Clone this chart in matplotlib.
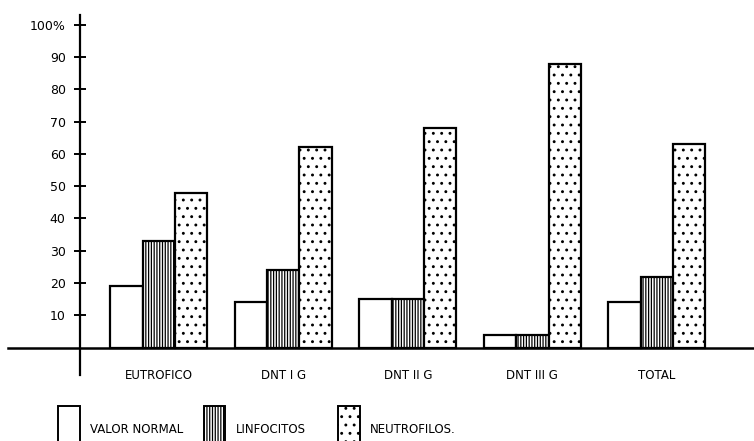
import numpy as np
import matplotlib.pyplot as plt
from matplotlib.patches import Rectangle

#%% data
grupos = ['EUTROFICO', 'DNT I G', 'DNT II G', 'DNT III G', 'TOTAL']
valor_normal = [19, 14, 15, 4, 14]
linfocitos = [33, 24, 15, 4, 22]
neutrofilos = [48, 62, 68, 88, 63]
yticks = [10, 20, 30, 40, 50, 60, 70, 80, 90, 100]
ytick_labels = ['10', '20', '30', '40', '50', '60', '70', '80', '90', '100%']
serie_labels = ['VALOR NORMAL', 'LINFOCITOS', 'NEUTROFILOS.']

#%% plot
plt.rcParams['hatch.linewidth'] = 0.9
fig = plt.figure(figsize=(7.54, 4.41), dpi=100)
ax = fig.add_axes([0, 0.1497, 1, 0.816])

x = np.arange(len(grupos))
w = 0.26
hatches = ['', '||||||', '..']
for i, vals in enumerate([valor_normal, linfocitos, neutrofilos]):
    ax.bar(x + (i - 1) * w, vals, width=w, facecolor='white',
           edgecolor='black', linewidth=1.6, hatch=hatches[i])

ax.set_xlim(-1.275, 4.78)
ax.set_ylim(-8.5, 103)

# axes drawn by hand style: y axis at x=-0.63, baseline at 0
ax.spines[['top', 'right', 'bottom']].set_visible(False)
ax.spines['left'].set_position(('data', -0.63))
ax.spines['left'].set_linewidth(1.6)
ax.plot([-1.21, 4.78], [0, 0], color='black', lw=1.8, clip_on=False)

ax.set_yticks(yticks)
ax.set_yticklabels(ytick_labels, fontsize=9)
ax.tick_params(axis='y', direction='inout', length=9, width=1.4, pad=6)
ax.set_xticks([])

for xi, g in zip(x, grupos):
    ax.text(xi, -8.7, g, ha='center', va='center', fontsize=8.5, clip_on=False)

# key drawn like the hand made one: tall boxes cut by the page edge
leg_x = [0.077, 0.27, 0.448]
for h, lab, lx in zip(hatches, serie_labels, leg_x):
    fig.add_artist(Rectangle((lx, -0.02), 0.029, 0.1, transform=fig.transFigure,
                             facecolor='white', edgecolor='black', hatch=h,
                             linewidth=1.4))
    fig.text(lx + 0.043, 0.025, lab, ha='left', va='center', fontsize=8.5)

fig.savefig('out.png', dpi=100)
